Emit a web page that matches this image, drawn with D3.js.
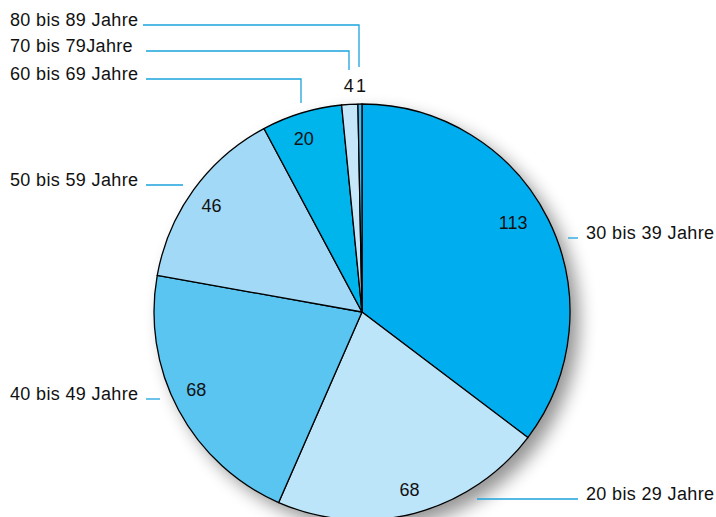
<!DOCTYPE html>
<html>
<head>
<meta charset="utf-8">
<script src="https://cdn.jsdelivr.net/npm/d3@7"></script>
<style>
  body { margin: 0; background: #fff; }
  svg { display: block; font-family: "Liberation Sans", Arial, sans-serif; }
</style>
</head>
<body>
<svg id="chart" width="716" height="517"></svg>
<script>
const ageGroups = ["30 bis 39 Jahre", "20 bis 29 Jahre", "40 bis 49 Jahre", "50 bis 59 Jahre", "60 bis 69 Jahre", "70 bis 79Jahre", "80 bis 89 Jahre"];
const counts = [113, 68, 68, 46, 20, 4, 1];
const sliceColors = ["#00aeef", "#bde5fa", "#5bc5f2", "#a2d9f6", "#00b4ec", "#c6e7f9", "#4fb8e8"];

// where each outer label sits (text anchor point and leader line),
// plus a small nudge for the value printed inside the slice
const labelLayout = [
  { x: 586, y: 239, lineFrom: 568, lineTo: 578, dx: -10, dy: -9 },
  { x: 586, y: 500, lineFrom: 477, lineTo: 578, dx: 2, dy: 4 },
  { x: 10, y: 400, lineFrom: 146, lineTo: 160, dx: -7, dy: -7 },
  { x: 10, y: 186, lineFrom: 146, lineTo: 183, dx: -5, dy: 0 },
  { x: 10, y: 80, lineFrom: 146, elbow: 103, dx: -6, dy: -1 },
  { x: 10, y: 52, lineFrom: 146, elbow: 70, dx: -1, dy: 0 },
  { x: 10, y: 26, lineFrom: 143, elbow: 67, dx: 1, dy: 0 }
];

const data = ageGroups.map((g, i) => ({ group: g, value: counts[i], color: sliceColors[i], layout: labelLayout[i] }));

const svg = d3.select("#chart");
const cx = 362, cy = 312, radius = 208;

const defs = svg.append("defs");
const shadow = defs.append("filter").attr("id", "shadow")
  .attr("x", "-20%").attr("y", "-20%").attr("width", "140%").attr("height", "140%");
shadow.append("feGaussianBlur").attr("stdDeviation", 9);

const pie = d3.pie().sort(null).value(d => d.value);
const arcs = pie(data);
const arc = d3.arc().innerRadius(0).outerRadius(radius);
const labelArc = d3.arc().innerRadius(180).outerRadius(180);

const g = svg.append("g").attr("transform", `translate(${cx},${cy})`);

g.append("circle")
  .attr("cx", 9).attr("cy", 9).attr("r", radius)
  .attr("fill", "#000").attr("opacity", 0.42)
  .attr("filter", "url(#shadow)");

g.selectAll("path.slice")
  .data(arcs)
  .join("path")
  .attr("class", "slice")
  .attr("d", arc)
  .attr("fill", d => d.data.color)
  .attr("stroke", "#000")
  .attr("stroke-width", 1.3)
  .attr("stroke-linejoin", "round");

// value labels: inside for big slices, above the rim for tiny ones
g.selectAll("text.value")
  .data(arcs)
  .join("text")
  .attr("class", "value")
  .attr("text-anchor", "middle")
  .attr("font-size", 18)
  .attr("fill", "#111")
  .attr("x", d => {
    const L = d.data.layout;
    if (d.data.value < 10) {
      const a = (d.startAngle + d.endAngle) / 2;
      return Math.sin(a) * radius + L.dx;
    }
    return labelArc.centroid(d)[0] + L.dx;
  })
  .attr("y", d => (d.data.value < 10 ? -radius - 12 : labelArc.centroid(d)[1] + 6 + d.data.layout.dy))
  .text(d => d.data.value);

// outer labels and leader lines
const lines = svg.append("g")
  .attr("fill", "none")
  .attr("stroke", "#1ba3dd")
  .attr("stroke-width", 1.3);

arcs.forEach(d => {
  const L = d.data.layout;
  const ly = L.y - 1;
  if (L.elbow !== undefined) {
    const a = (d.startAngle + d.endAngle) / 2;
    const ex = Math.round(cx + Math.sin(a) * radius) - 1;
    lines.append("path").attr("d", `M${L.lineFrom},${ly}H${ex}V${L.elbow}`);
  } else {
    lines.append("path").attr("d", `M${L.lineFrom},${ly}H${L.lineTo}`);
  }
});

svg.append("g")
  .selectAll("text")
  .data(arcs)
  .join("text")
  .attr("x", d => d.data.layout.x)
  .attr("y", d => d.data.layout.y)
  .attr("font-size", 18)
  .attr("letter-spacing", 0.35)
  .attr("fill", "#111")
  .text(d => d.data.group);
</script>
</body>
</html>
